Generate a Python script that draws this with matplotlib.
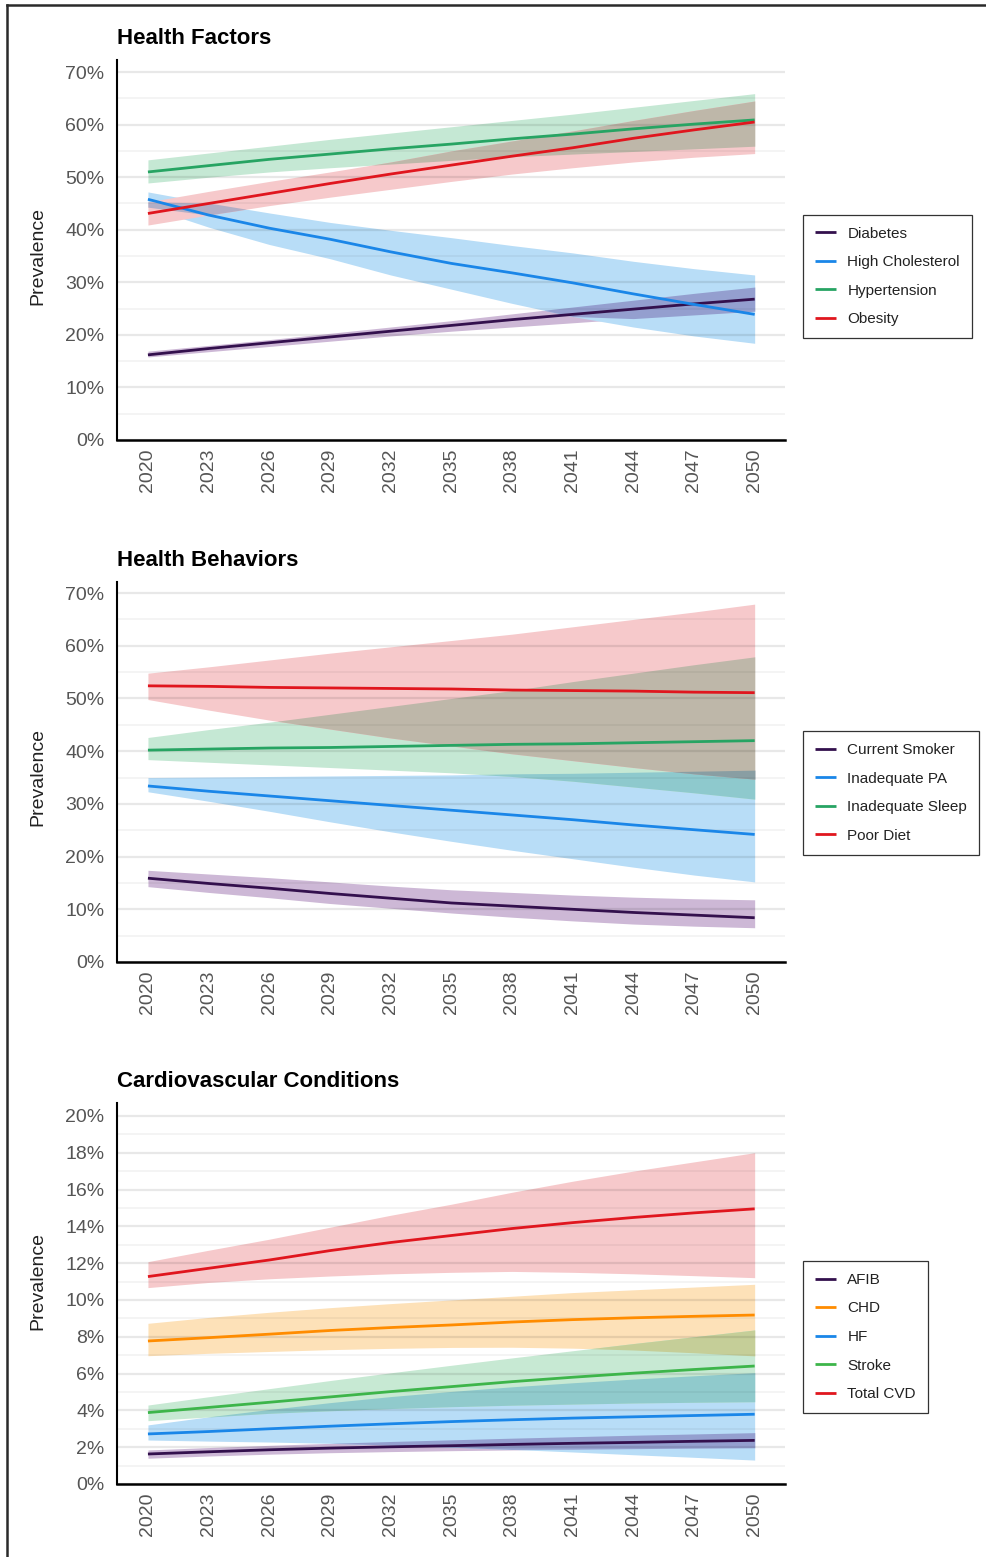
import matplotlib
matplotlib.use("Agg")
import matplotlib.pyplot as plt
from matplotlib.ticker import MultipleLocator, FuncFormatter
from matplotlib.lines import Line2D
from matplotlib.colors import to_rgb
from itertools import combinations
import numpy as np

plt.rcParams['font.family'] = ['Liberation Sans', 'DejaVu Sans']

# ---------------- data ----------------
years = [2020, 2023, 2026, 2029, 2032, 2035, 2038, 2041, 2044, 2047, 2050]

# Health factors (%)
diabetes_mid = [16.2, 17.4, 18.5, 19.6, 20.7, 21.8, 22.9, 23.9, 24.9, 25.9, 26.8]
diabetes_lo = [15.8, 16.8, 17.8, 18.8, 19.8, 20.7, 21.5, 22.3, 23.1, 23.8, 24.5]
diabetes_hi = [16.9, 18.0, 19.1, 20.3, 21.5, 22.7, 24.0, 25.3, 26.6, 27.9, 29.1]
chol_mid = [45.8, 42.8, 40.3, 38.2, 35.8, 33.6, 31.8, 29.9, 27.8, 25.8, 23.9]
chol_lo = [44.3, 40.5, 37.2, 34.5, 31.4, 28.7, 26.0, 23.5, 21.5, 19.8, 18.4]
chol_hi = [47.2, 45.1, 43.2, 41.4, 39.9, 38.5, 37.0, 35.6, 34.0, 32.6, 31.4]
htn_mid = [51.0, 52.2, 53.4, 54.4, 55.4, 56.3, 57.3, 58.2, 59.2, 60.1, 60.9]
htn_lo = [48.9, 50.0, 51.0, 51.8, 52.5, 53.2, 53.9, 54.4, 54.9, 55.4, 55.9]
htn_hi = [53.3, 54.6, 55.9, 57.2, 58.4, 59.6, 60.8, 62.0, 63.3, 64.6, 65.9]
obes_mid = [43.1, 45.0, 46.9, 48.8, 50.6, 52.3, 54.0, 55.6, 57.4, 59.0, 60.5]
obes_lo = [40.9, 42.8, 44.6, 46.2, 47.7, 49.2, 50.6, 51.8, 52.9, 53.8, 54.5]
obes_hi = [45.3, 47.3, 49.2, 51.0, 52.9, 55.0, 56.9, 58.8, 60.8, 62.7, 64.5]

# Health behaviors (%)
smoke_mid = [15.9, 14.9, 14.0, 13.0, 12.1, 11.2, 10.6, 10.0, 9.4, 8.9, 8.4]
smoke_lo = [14.3, 13.2, 12.2, 11.1, 10.2, 9.3, 8.5, 7.8, 7.2, 6.8, 6.5]
smoke_hi = [17.4, 16.7, 16.0, 15.2, 14.4, 13.7, 13.2, 12.7, 12.3, 12.0, 11.8]
pa_mid = [33.4, 32.4, 31.5, 30.6, 29.7, 28.8, 27.9, 27.0, 26.0, 25.1, 24.2]
pa_lo = [32.3, 30.5, 28.6, 26.6, 24.7, 22.9, 21.2, 19.6, 18.0, 16.5, 15.2]
pa_hi = [35.0, 35.1, 35.2, 35.3, 35.4, 35.5, 35.7, 35.8, 36.0, 36.2, 36.4]
sleep_mid = [40.2, 40.4, 40.6, 40.7, 40.9, 41.1, 41.3, 41.4, 41.6, 41.8, 42.0]
sleep_lo = [38.4, 37.9, 37.4, 36.9, 36.4, 35.9, 35.2, 34.3, 33.2, 32.1, 30.9]
sleep_hi = [42.6, 44.1, 45.5, 47.0, 48.5, 50.0, 51.5, 53.2, 54.8, 56.4, 57.9]
diet_mid = [52.4, 52.3, 52.1, 52.0, 51.9, 51.8, 51.6, 51.5, 51.4, 51.2, 51.1]
diet_lo = [49.8, 47.8, 45.9, 44.2, 42.5, 41.0, 39.5, 38.2, 36.9, 35.7, 34.7]
diet_hi = [54.8, 56.0, 57.3, 58.6, 59.8, 61.0, 62.2, 63.6, 65.0, 66.4, 67.9]

# Cardiovascular conditions (%)
afib_mid = [1.63, 1.75, 1.86, 1.95, 2.02, 2.08, 2.15, 2.21, 2.26, 2.32, 2.37]
afib_lo = [1.40, 1.52, 1.62, 1.70, 1.76, 1.81, 1.85, 1.89, 1.92, 1.95, 1.97]
afib_hi = [1.85, 1.98, 2.10, 2.21, 2.31, 2.40, 2.49, 2.57, 2.65, 2.72, 2.79]
chd_mid = [7.77, 7.95, 8.14, 8.34, 8.50, 8.64, 8.80, 8.93, 9.03, 9.11, 9.18]
chd_lo = [6.97, 7.10, 7.20, 7.30, 7.37, 7.42, 7.43, 7.38, 7.28, 7.13, 6.96]
chd_hi = [8.73, 9.05, 9.33, 9.58, 9.80, 10.00, 10.20, 10.40, 10.55, 10.70, 10.85]
hf_mid = [2.72, 2.85, 3.00, 3.14, 3.27, 3.39, 3.49, 3.58, 3.65, 3.72, 3.79]
hf_lo = [2.39, 2.33, 2.28, 2.21, 2.12, 2.00, 1.88, 1.74, 1.59, 1.45, 1.30]
hf_hi = [3.21, 3.65, 4.05, 4.42, 4.75, 5.03, 5.28, 5.50, 5.70, 5.88, 6.05]
stroke_mid = [3.88, 4.16, 4.44, 4.73, 5.02, 5.29, 5.56, 5.80, 6.02, 6.22, 6.41]
stroke_lo = [3.44, 3.64, 3.84, 3.98, 4.10, 4.20, 4.28, 4.34, 4.40, 4.44, 4.47]
stroke_hi = [4.29, 4.74, 5.18, 5.62, 6.04, 6.45, 6.85, 7.24, 7.63, 8.00, 8.37]
cvd_mid = [11.27, 11.72, 12.17, 12.68, 13.12, 13.50, 13.88, 14.20, 14.48, 14.73, 14.95]
cvd_lo = [10.67, 10.95, 11.15, 11.30, 11.42, 11.50, 11.55, 11.50, 11.42, 11.32, 11.21]
cvd_hi = [12.08, 12.70, 13.30, 13.95, 14.60, 15.20, 15.85, 16.45, 17.00, 17.50, 18.00]

# ---------------- styles ----------------
PURPLE = ("#33104d", "#cdb8d6")
BLUE = ("#1a86e8", "#b8ddf7")
GREEN = ("#27a463", "#c5e8d4")
RED = ("#e0161e", "#f6c9cb")
ORANGE = ("#ff8c00", "#fde1b8")
LGREEN = ("#3db54a", "#c7e9d3")

panels = [
    dict(title="Health Factors", top=60, bottom=440, ymax=72.3, major=10,
         leg_y=276.5, lab_y=0.483,
         series=[("Diabetes", diabetes_mid, diabetes_lo, diabetes_hi, PURPLE),
                 ("High Cholesterol", chol_mid, chol_lo, chol_hi, BLUE),
                 ("Hypertension", htn_mid, htn_lo, htn_hi, GREEN),
                 ("Obesity", obes_mid, obes_lo, obes_hi, RED)]),
    dict(title="Health Behaviors", top=582, bottom=962, ymax=72.1, major=10,
         leg_y=793, lab_y=0.486,
         series=[("Current Smoker", smoke_mid, smoke_lo, smoke_hi, PURPLE),
                 ("Inadequate PA", pa_mid, pa_lo, pa_hi, BLUE),
                 ("Inadequate Sleep", sleep_mid, sleep_lo, sleep_hi, GREEN),
                 ("Poor Diet", diet_mid, diet_lo, diet_hi, RED)]),
    dict(title="Cardiovascular Conditions", top=1103, bottom=1484, ymax=20.7, major=2,
         leg_y=1337, lab_y=0.533,
         series=[("AFIB", afib_mid, afib_lo, afib_hi, PURPLE),
                 ("CHD", chd_mid, chd_lo, chd_hi, ORANGE),
                 ("HF", hf_mid, hf_lo, hf_hi, BLUE),
                 ("Stroke", stroke_mid, stroke_lo, stroke_hi, LGREEN),
                 ("Total CVD", cvd_mid, cvd_lo, cvd_hi, RED)]),
]

W, H = 987, 1557
fig = plt.figure(figsize=(W / 100, H / 100), dpi=100)
fig.patch.set_facecolor("white")


def rect(l, t, r, b):
    return [l / W, 1 - b / H, (r - l) / W, (b - t) / H]


x = np.array(years, dtype=float)

for p in panels:
    ax = fig.add_axes(rect(117, p["top"], 785, p["bottom"]))
    ax.set_xlim(2018.47, 2051.5)
    ax.set_ylim(0, p["ymax"])
    ser = p["series"]
    los = [np.array(s[2]) for s in ser]
    his = [np.array(s[3]) for s in ser]
    fills = [np.array(to_rgb(s[4][1])) for s in ser]
    n = len(ser)
    # base bands
    for i in range(n):
        ax.fill_between(x, los[i], his[i], color=fills[i], lw=0, zorder=1)
    # overlaps rendered with multiply blending
    for k in range(2, n + 1):
        for combo in combinations(range(n), k):
            lo = np.max([los[i] for i in combo], axis=0)
            hi = np.min([his[i] for i in combo], axis=0)
            mask = hi > lo
            if not mask.any():
                continue
            col = np.prod([fills[i] for i in combo], axis=0)
            ax.fill_between(x, lo, hi, where=mask, interpolate=True,
                            color=col, lw=0, zorder=1 + 0.01 * k)
    for s in ser:
        ax.plot(x, s[1], color=s[4][0], lw=2.0, zorder=3, label=s[0],
                solid_capstyle="butt")

    ax.yaxis.set_major_locator(MultipleLocator(p["major"]))
    ax.yaxis.set_minor_locator(MultipleLocator(p["major"] / 2))
    ax.yaxis.set_major_formatter(FuncFormatter(lambda v, pos: f"{v:.0f}%"))
    ax.set_axisbelow("line")
    ax.grid(axis="y", which="major", color="black", alpha=0.09, lw=1.6)
    ax.grid(axis="y", which="minor", color="black", alpha=0.05, lw=1.2)
    ax.grid(axis="x", visible=False)

    ax.set_xticks(years)
    ax.set_xticklabels([str(y) for y in years])
    ax.tick_params(axis="both", which="both", length=0)
    ax.tick_params(axis="y", pad=9, labelsize=14, labelcolor="#555555")
    ax.tick_params(axis="x", pad=6, labelsize=14, labelcolor="#555555",
                   labelrotation=90)

    for sp in ("top", "right"):
        ax.spines[sp].set_visible(False)
    ax.spines["left"].set_linewidth(1.5)
    ax.spines["left"].set_color("black")
    ax.spines["bottom"].set_linewidth(1.8)
    ax.spines["bottom"].set_color("black")

    ax.set_title(p["title"], loc="left", fontsize=16, fontweight="bold",
                 pad=11.5, color="black")
    ax.set_ylabel("Prevalence", fontsize=14, color="#222222")
    ax.yaxis.set_label_coords(-0.106, p["lab_y"])

    leg = ax.legend(loc="center left", bbox_to_anchor=(803 / W, 1 - p["leg_y"] / H),
                    bbox_transform=fig.transFigure, frameon=True, fancybox=False,
                    edgecolor="black", fontsize=11, handlelength=1.36,
                    handletextpad=0.75, borderpad=0.8, labelspacing=0.95,
                    borderaxespad=0)
    leg.get_frame().set_linewidth(0.9)
    for t in leg.get_texts():
        t.set_color("#222222")

# outer frame (top and left edges)
fig.add_artist(Line2D([7 / W, 1.0], [1 - 5 / H, 1 - 5 / H], transform=fig.transFigure,
                      color="#2a2a2a", lw=1.8))
fig.add_artist(Line2D([7 / W, 7 / W], [0.0, 1 - 5 / H], transform=fig.transFigure,
                      color="#2a2a2a", lw=1.8))

fig.savefig("out.png", dpi=100)
